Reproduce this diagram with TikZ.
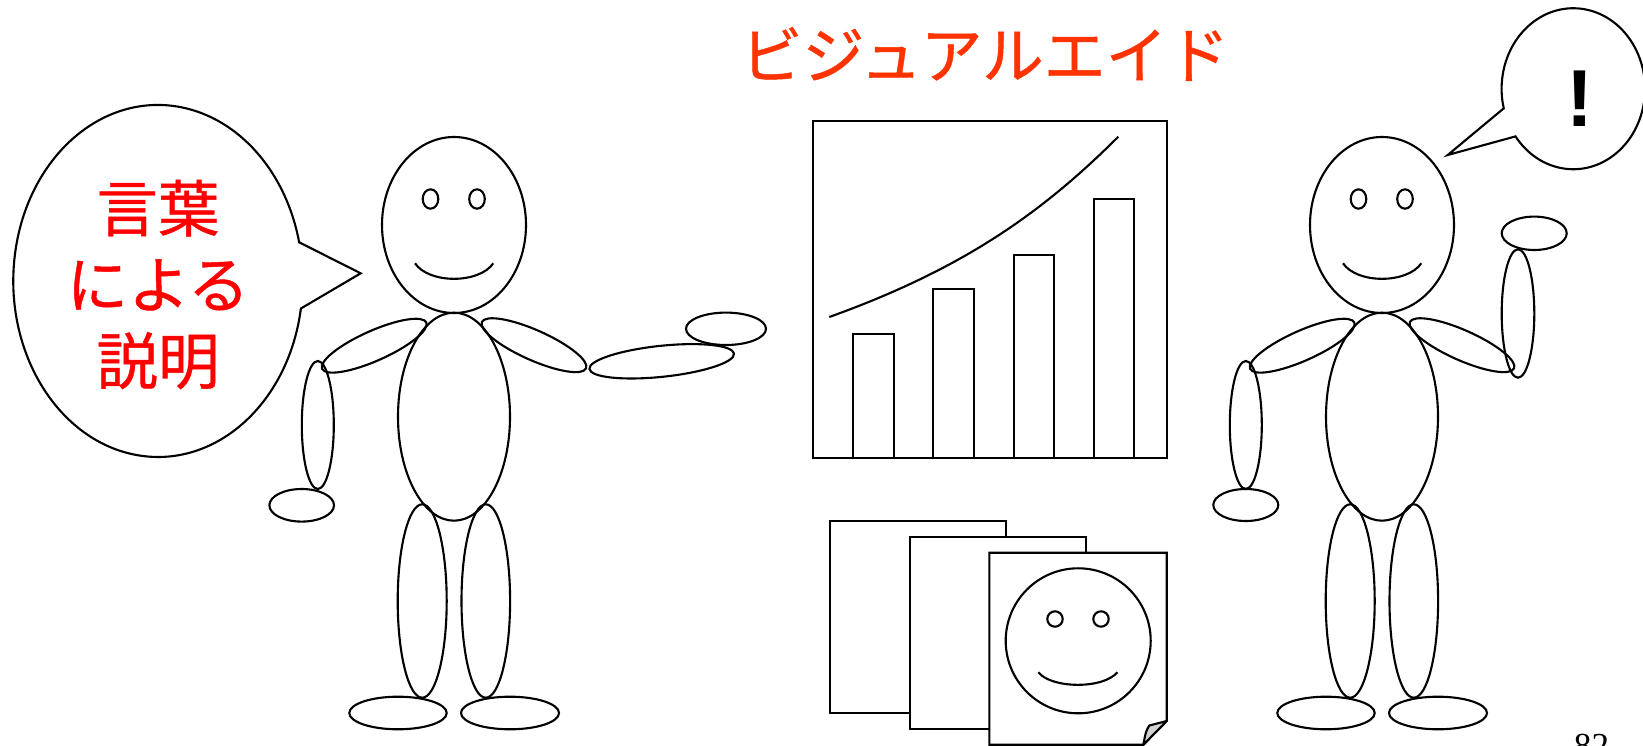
\documentclass[tikz,border=0pt]{standalone}
\usepackage{fontspec}
\setmainfont{Liberation Serif}
\newfontfamily\jpfont{Noto Sans CJK JP}
\newfontfamily\jpfontheavy{Noto Sans CJK JP}[FakeBold=0.7]
\newfontfamily\exclfont{Liberation Sans}
\definecolor{wordred}{RGB}{255,0,0}
\definecolor{titlered}{RGB}{255,51,0}

% common parts of a standing figure (head, face, torso, upper arms, legs, feet)
\newcommand{\figurecore}{%
  \draw (454,225) ellipse[x radius=72, y radius=88];
  \draw (430.5,199) ellipse[x radius=7.8, y radius=9.7];
  \draw (477,199) ellipse[x radius=7.8, y radius=9.7];
  \draw (415,263.3) .. controls (429,284) and (479,284) .. (493.3,263.3);
  \draw (454,416.7) ellipse[x radius=56, y radius=104];
  \draw[shift={(374.2,345.7)}, rotate=24] (0,0) ellipse[x radius=57, y radius=15];
  \draw[shift={(534,345.2)}, rotate=-24] (0,0) ellipse[x radius=57, y radius=15];
  \draw (422.2,601) ellipse[x radius=24.5, y radius=96.7];
  \draw (485.8,601) ellipse[x radius=24.3, y radius=96.7];
  \draw (398,713) ellipse[x radius=48.7, y radius=16.3];
  \draw (510,713) ellipse[x radius=49, y radius=16.3];
}

\begin{document}
\begin{tikzpicture}[x=0.02cm, y=-0.02cm, line width=1.2pt,
  paper/.style={draw=black, fill=white, line width=1.2pt, line join=miter},
  bubbletext/.style={font=\jpfontheavy\fontsize{35pt}{43.4pt}\selectfont, text=wordred, align=center, inner sep=0pt},
  titletext/.style={font=\jpfontheavy\fontsize{35.2pt}{40pt}\selectfont, text=titlered, inner sep=0pt},
  excltext/.style={font=\exclfont\bfseries\fontsize{46pt}{50pt}\selectfont, inner sep=0pt},
  pagenum/.style={font=\fontsize{20pt}{24pt}\selectfont, inner sep=0pt, anchor=base}]
\useasboundingbox (0,0) rectangle (1643,746);
\clip (0,0) rectangle (1643,746);

% ---- speaker on the left ----
\figurecore
\draw (317.8,425) ellipse[x radius=16, y radius=64];
\draw (301.7,505.3) ellipse[x radius=32.3, y radius=16.3];
\draw[shift={(661.7,361.3)}, rotate=6] (0,0) ellipse[x radius=72.7, y radius=15.5];
\draw (726,328.8) ellipse[x radius=40, y radius=16.2];

% speech bubble of the speaker
\draw[line join=miter] (300.9,308.5) arc[start angle=9, end angle=347.3, x radius=144.7, y radius=176]
  -- (360.7,273.3) -- cycle;
\node[bubbletext] (words) at (158,284.5) {言葉\\による\\説明};

% ---- listener on the right ----
\begin{scope}[shift={(928,0)}]
  \figurecore
\end{scope}
\draw (1245.8,425) ellipse[x radius=16, y radius=64];
\draw (1245.8,505) ellipse[x radius=32.5, y radius=16];
\draw (1518,313.5) ellipse[x radius=16.3, y radius=64.2];
\draw (1534.2,233.3) ellipse[x radius=32.5, y radius=16.7];

% exclamation bubble
\draw[line join=miter] (1515.5,136.4) arc[start angle=143.7, end angle=-194.1, x radius=71.7, y radius=80.5]
  -- (1447.7,155) -- cycle;
\node[excltext] (excl) at (1580,99) {!};

% ---- title ----
\node[titletext] (title) at (985,54) {ビジュアルエイド};

% ---- chart ----
\draw[line join=miter] (813.3,121) rectangle (1166.7,457.7);
\draw (853.3,457.7) rectangle (894.3,334);
\draw (933.3,457.7) rectangle (974,289.3);
\draw (1013.7,457.7) rectangle (1054.3,255.3);
\draw (1093.7,457.7) rectangle (1134.3,199.3);
\draw (829.3,317) .. controls (960,270) and (1040,215) .. (1118.3,136.7);

% ---- stack of sheets ----
\draw[paper] (830,521) rectangle (1006,713.3);
\draw[paper] (910,537.3) rectangle (1086,729.3);
\draw[paper] (989.3,552.7) -- (1166.7,552.7) -- (1166.7,721) -- (1143.3,744.8) -- (989.3,744.8) -- cycle;
\draw[fill=gray!35, line join=round] (1166.7,721) -- (1149.3,725.5) .. controls (1146,731) .. (1143.3,744.8) -- cycle;
\draw (1078.2,640.8) circle[radius=72.5];
\draw (1055,619) circle[radius=7.7];
\draw (1101,619) circle[radius=7.7];
\draw (1038.3,672.3) .. controls (1052,689) and (1103.6,689) .. (1117.3,672.3);

% ---- page number ----
\node[pagenum] (pageno) at (1591.5,757) {82};
\end{tikzpicture}
\end{document}
